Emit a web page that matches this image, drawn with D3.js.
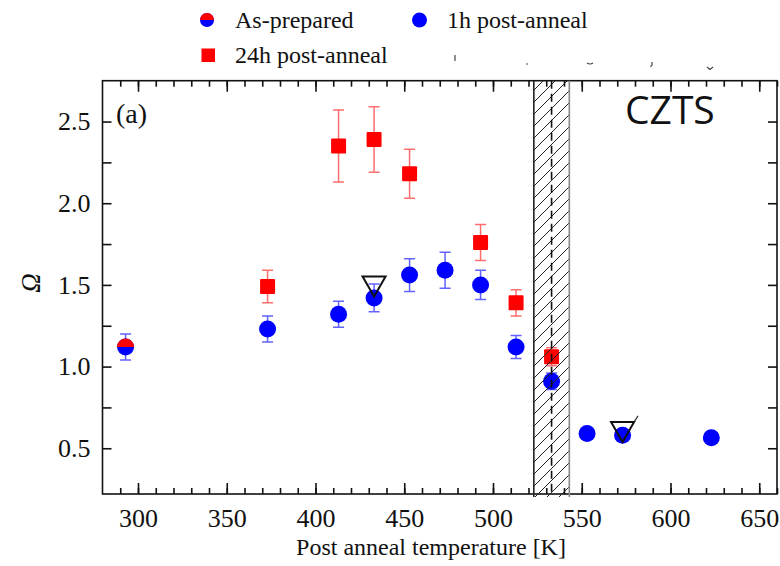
<!DOCTYPE html>
<html>
<head>
<meta charset="utf-8">
<script src="https://cdn.jsdelivr.net/npm/d3@7"></script>
<style>
  html, body { margin: 0; padding: 0; background: #fff; }
  svg { display: block; }
  text { font-family: "Liberation Serif", "Times New Roman", serif; fill: #111; }
</style>
</head>
<body>
<svg id="chart" width="780" height="566"></svg>
<script>
// Ω versus post-anneal temperature (K)
const asPreparedTemp = [293];
const asPreparedOmega = [1.12];
const asPreparedErr = [0.08];

const temps1h = [373, 413, 433, 453, 473, 493, 513, 533, 553, 573, 623];
const omega1h = [1.23, 1.32, 1.42, 1.56, 1.59, 1.50, 1.12, 0.91, 0.59, 0.58, 0.565];
const err1h   = [0.08, 0.08, 0.085, 0.10, 0.11, 0.09, 0.07, 0.05, 0, 0, 0];

const temps24h = [373, 413, 433, 453, 493, 513, 533];
const omega24h = [1.49, 2.35, 2.39, 2.18, 1.76, 1.39, 1.06];
const err24h   = [0.10, 0.22, 0.20, 0.15, 0.11, 0.08, 0.055];

const triangleTemps = [433, 573];
const triangleOmega = [1.49, 0.60];

const transitionBand = [523, 543];
const transitionTemp = 533;

const xMajorTicks = [300, 350, 400, 450, 500, 550, 600, 650];
const xMinorTicks = d3.range(290, 661, 10);
const yTicks = [0.5, 0.75, 1.0, 1.25, 1.5, 1.75, 2.0, 2.25, 2.5];
const yLabelTicks = [0.5, 1.0, 1.5, 2.0, 2.5];

const seriesNames = ["As-prepared", "1h post-anneal", "24h post-anneal"];

const BLUE = "#0000ff", RED = "#ff0000";

const svg = d3.select("#chart");
const plotLeft = 102.5, plotRight = 777, plotTop = 80.7, plotBottom = 494;

const x = d3.scaleLinear().domain([280, 660]).range([plotLeft, plotRight]);
const y = d3.scaleLinear().domain([0.22, 2.75]).range([plotBottom, plotTop]);

// hatch pattern for the transition band
const defs = svg.append("defs");
const pat = defs.append("pattern")
  .attr("id", "hatch").attr("patternUnits", "userSpaceOnUse")
  .attr("width", 12).attr("height", 12);
pat.append("path")
  .attr("d", "M0,12 L12,0 M-3,3 L3,-3 M9,15 L15,9")
  .attr("stroke", "#222").attr("stroke-width", 1);

// axes: inward ticks on all four sides
const gBottom = svg.append("g").attr("transform", `translate(0,${plotBottom})`);
gBottom.call(d3.axisBottom(x).tickValues(xMinorTicks).tickSize(-6).tickFormat(""));
const gBottomMajor = svg.append("g").attr("transform", `translate(0,${plotBottom})`);
gBottomMajor.call(d3.axisBottom(x).tickValues(xMajorTicks).tickSize(-11).tickFormat(d3.format("d")));
const gTop = svg.append("g").attr("transform", `translate(0,${plotTop})`);
gTop.call(d3.axisTop(x).tickValues(xMinorTicks).tickSize(-6).tickFormat(""));
const gTopMajor = svg.append("g").attr("transform", `translate(0,${plotTop})`);
gTopMajor.call(d3.axisTop(x).tickValues(xMajorTicks).tickSize(-11).tickFormat(""));
const gLeft = svg.append("g").attr("transform", `translate(${plotLeft},0)`);
gLeft.call(d3.axisLeft(y).tickValues(yTicks).tickSize(-9)
  .tickFormat(d => yLabelTicks.includes(d) ? d3.format(".1f")(d) : ""));
const gRight = svg.append("g").attr("transform", `translate(${plotRight},0)`);
gRight.call(d3.axisRight(y).tickValues(yTicks).tickSize(-9).tickFormat(""));

svg.selectAll(".domain").remove();
svg.selectAll(".tick line").attr("stroke", "#111").attr("stroke-width", 1.6);
gBottomMajor.selectAll("text").attr("y", 33).attr("dy", null)
  .style("font-size", "26px").attr("fill", "#111");
gLeft.selectAll("text").attr("x", -12).attr("dy", "0.32em")
  .style("font-size", "26px").attr("fill", "#111");

// frame
svg.append("rect")
  .attr("x", plotLeft).attr("y", plotTop)
  .attr("width", plotRight - plotLeft).attr("height", plotBottom - plotTop)
  .attr("fill", "none").attr("stroke", "#111").attr("stroke-width", 1.6);

const plot = svg.append("g");

// error bars
function errorBars(temps, vals, errs, color, opacity) {
  const g = plot.append("g").attr("stroke", color).attr("stroke-opacity", opacity)
    .attr("stroke-width", 1.5).attr("fill", "none");
  temps.forEach((t, i) => {
    if (!errs[i]) return;
    const cx = x(t), y0 = y(vals[i] - errs[i]), y1 = y(vals[i] + errs[i]);
    g.append("path").attr("d",
      `M${cx},${y0}V${y1}M${cx - 5.5},${y0}H${cx + 5.5}M${cx - 5.5},${y1}H${cx + 5.5}`);
  });
}
errorBars(temps24h, omega24h, err24h, "#ff2020", 0.65);
errorBars(temps1h, omega1h, err1h, "#2020ff", 0.7);
errorBars(asPreparedTemp, asPreparedOmega, asPreparedErr, "#2020ff", 0.7);

// 24h post-anneal squares
plot.selectAll("rect.sq").data(temps24h).join("rect")
  .attr("class", "sq")
  .attr("x", d => x(d) - 7.5).attr("y", (d, i) => y(omega24h[i]) - 7.5)
  .attr("width", 15).attr("height", 15).attr("rx", 1)
  .attr("fill", RED);

// 1h post-anneal circles
plot.selectAll("circle.c1").data(temps1h).join("circle")
  .attr("class", "c1")
  .attr("cx", d => x(d)).attr("cy", (d, i) => y(omega1h[i])).attr("r", 8.5)
  .attr("fill", BLUE);

// as-prepared: half red (top), half blue (bottom)
function halfCircle(g, cx, cy, r) {
  g.append("circle").attr("cx", cx).attr("cy", cy).attr("r", r).attr("fill", BLUE);
  g.append("path")
    .attr("d", `M${cx - r},${cy} A${r},${r} 0 0 1 ${cx + r},${cy} Z`)
    .attr("fill", RED);
}
asPreparedTemp.forEach((t, i) => halfCircle(plot, x(t), y(asPreparedOmega[i]), 8.5));

// open down-triangles
plot.selectAll("path.tri").data(triangleTemps).join("path")
  .attr("class", "tri")
  .attr("d", (d, i) => {
    const cx = x(d), cy = y(triangleOmega[i]);
    return `M${cx - 11.5},${cy - 10}H${cx + 11.5}L${cx},${cy + 10}Z`;
  })
  .attr("fill", "none").attr("stroke", "#111").attr("stroke-width", 2)
  .attr("stroke-linejoin", "miter");
// small stroke trailing off the upper-right corner of the second triangle
{
  const cx = x(triangleTemps[1]) + 11.5, cy = y(triangleOmega[1]) - 10;
  plot.append("path").attr("d", `M${cx},${cy}L${cx + 4},${cy - 6}`)
    .attr("stroke", "#333").attr("stroke-width", 1.2).attr("fill", "none");
}

// hatched transition band with dashed centre line
svg.append("rect")
  .attr("x", x(transitionBand[0])).attr("y", plotTop)
  .attr("width", x(transitionBand[1]) - x(transitionBand[0]))
  .attr("height", plotBottom - plotTop + 3)
  .attr("fill", "url(#hatch)");
svg.append("line")
  .attr("x1", x(transitionBand[0])).attr("x2", x(transitionBand[0]))
  .attr("y1", plotTop).attr("y2", plotBottom + 3).attr("stroke", "#222").attr("stroke-width", 1.6);
svg.append("line")
  .attr("x1", x(transitionBand[1])).attr("x2", x(transitionBand[1]))
  .attr("y1", plotTop).attr("y2", plotBottom + 3).attr("stroke", "#888").attr("stroke-width", 1.6);
svg.append("line")
  .attr("x1", x(transitionTemp)).attr("x2", x(transitionTemp))
  .attr("y1", plotTop).attr("y2", plotBottom)
  .attr("stroke", "#111").attr("stroke-width", 1.6).attr("stroke-dasharray", "8,5");

// panel label and material label
svg.append("text").attr("x", 116).attr("y", 123).style("font-size", "28px").text("(a)");
svg.append("text").attr("x", 625).attr("y", 124)
  .style("font-family", "'Open Sans', sans-serif").style("font-size", "39px")
  .attr("fill", "#000").text("CZTS");

// axis titles
svg.append("text").attr("x", 431).attr("y", 555).attr("text-anchor", "middle")
  .style("font-size", "24px").text("Post anneal temperature [K]");
svg.append("text")
  .attr("transform", "translate(40,283) rotate(-90)").attr("text-anchor", "middle")
  .style("font-size", "27px").style("font-style", "italic").text("Ω");

// legend
const legend = svg.append("g");
halfCircle(legend, 207, 20, 7);
legend.append("text").attr("x", 235).attr("y", 28).style("font-size", "24px").text(seriesNames[0]);
legend.append("circle").attr("cx", 419.5).attr("cy", 20).attr("r", 7.5).attr("fill", BLUE);
legend.append("text").attr("x", 447).attr("y", 28).style("font-size", "24px").text(seriesNames[1]);
legend.append("rect").attr("x", 201.5).attr("y", 48.5).attr("width", 13.5).attr("height", 13.5).attr("fill", RED);
legend.append("text").attr("x", 235).attr("y", 63).style("font-size", "24px").text(seriesNames[2]);

// faint remnants of a clipped line beneath the legend
legend.append("path")
  .attr("d", "M455,55V61 M526,64h2 M587,63q3,2 6,0 M652,62v3l-1.5,2 M707,67l3,2.5l3,-2.5")
  .attr("stroke", "#444").attr("stroke-width", 1.2).attr("fill", "none");
</script>
</body>
</html>
